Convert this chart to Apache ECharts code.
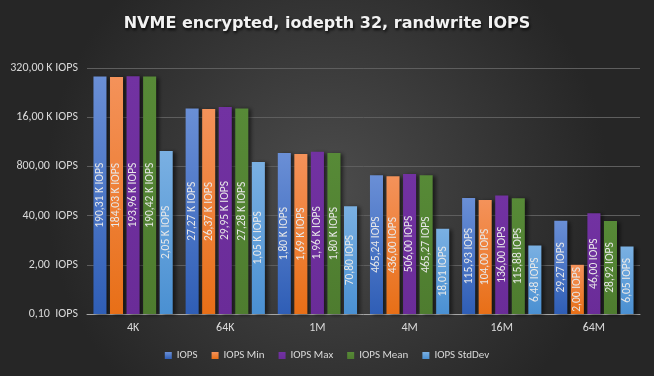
<!DOCTYPE html>
<html><head><meta charset="utf-8">
<script src="https://cdn.jsdelivr.net/npm/echarts@6/dist/echarts.min.js"></script>
<style>html,body{margin:0;padding:0;background:#333}#c{width:654px;height:376px}</style>
</head><body><div id="c"></div>
<script>
const categories = ['4K', '64K', '1M', '4M', '16M', '64M'];
const seriesNames = ['IOPS', 'IOPS Min', 'IOPS Max', 'IOPS Mean', 'IOPS StdDev'];
const iops       = [190310, 27270, 1800, 465.24, 115.93, 29.27];
const iopsMin    = [184030, 26370, 1690, 436.00, 104.00, 2.00];
const iopsMax    = [193960, 29950, 1960, 506.00, 136.00, 46.00];
const iopsMean   = [190420, 27280, 1800, 465.27, 115.88, 28.92];
const iopsStdDev = [2050, 1050, 70.80, 18.01, 6.48, 6.05];
const yTicks = [0.1, 2, 40, 800, 16000, 320000];

const SCALE = 10; // axis shifted so that 0.10 IOPS is the log-axis origin (value 1)
const colors = [
  ['#6a8fd6', '#2f5eb6'],
  ['#f4925a', '#e86f17'],
  ['#7232a2', '#6a2c98'],
  ['#578a37', '#4e7c2f'],
  ['#7ab0e2', '#4a90d2']
];
const legendColors = ['#4472c4', '#ed7d31', '#7030a0', '#548235', '#5b9bd5'];
const allData = [iops, iopsMin, iopsMax, iopsMean, iopsStdDev];

function fmt(v, sep) {
  if (v >= 1000) return (v / 1000).toFixed(2).replace('.', ',') + ' K IOPS';
  return v.toFixed(2).replace('.', ',') + sep + 'IOPS';
}
const FONT = "'Carlito','Liberation Sans Narrow','Liberation Sans',sans-serif";

const chart = echarts.init(document.getElementById('c'));
chart.setOption({
  animation: false,
  backgroundColor: {
    type: 'radial', x: 0.5, y: 0.5, r: 0.75,
    colorStops: [{offset: 0, color: '#4c4c4c'}, {offset: 1, color: '#262626'}]
  },
  title: {
    text: 'NVME encrypted, iodepth 32, randwrite IOPS',
    left: 'center', top: 11,
    textStyle: {
      color: '#f2f2f2', fontSize: 16, fontWeight: 'bold', fontFamily: "'DejaVu Sans',sans-serif",
      textShadowColor: 'rgba(0,0,0,0.8)', textShadowBlur: 3, textShadowOffsetX: 1, textShadowOffsetY: 2
    }
  },
  legend: {
    bottom: 10, left: 'center',
    itemWidth: 7, itemHeight: 7, itemGap: 14, icon: 'rect',
    textStyle: {color: '#d9d9d9', fontSize: 11, fontFamily: FONT},
    data: seriesNames
  },
  grid: {left: 87, right: 14, top: 68, bottom: 62},
  xAxis: {
    type: 'category', data: categories,
    axisLine: {lineStyle: {color: '#a6a6a6', width: 1}},
    axisTick: {show: false},
    axisLabel: {color: '#d9d9d9', fontSize: 12, fontFamily: FONT, margin: 8}
  },
  yAxis: {
    type: 'log', logBase: 20,
    min: yTicks[0] * SCALE, max: yTicks[yTicks.length - 1] * SCALE,
    interval: 1,
    axisLine: {show: false}, axisTick: {show: false},
    splitLine: {lineStyle: {color: '#5e5e5e', width: 1}},
    axisLabel: {
      color: '#d9d9d9', fontSize: 12, fontFamily: FONT, margin: 9,
      formatter: function (v) {
        const real = v / SCALE;
        let best = yTicks[0];
        yTicks.forEach(t => { if (Math.abs(Math.log(t) - Math.log(real)) < Math.abs(Math.log(best) - Math.log(real))) best = t; });
        return fmt(best, '  ');
      }
    }
  },
  series: seriesNames.map((name, i) => ({
    name: name, type: 'bar',
    barGap: '27%', barCategoryGap: '14%',
    data: allData[i].map(v => ({value: v * SCALE, raw: v})),
    itemStyle: {
      color: {type: 'linear', x: 0, y: 0, x2: 0, y2: 1,
        colorStops: [{offset: 0, color: colors[i][0]}, {offset: 1, color: colors[i][1]}]},
      shadowColor: 'rgba(0,0,0,0.55)', shadowBlur: 4, shadowOffsetX: 3, shadowOffsetY: 1
    },
    label: {
      show: true, position: 'inside', rotate: 90,
      color: '#e8e8e8', fontSize: 11.5, fontFamily: FONT,
      formatter: p => fmt(p.data.raw, ' ')
    }
  })),
  color: legendColors
});
</script></body></html>
